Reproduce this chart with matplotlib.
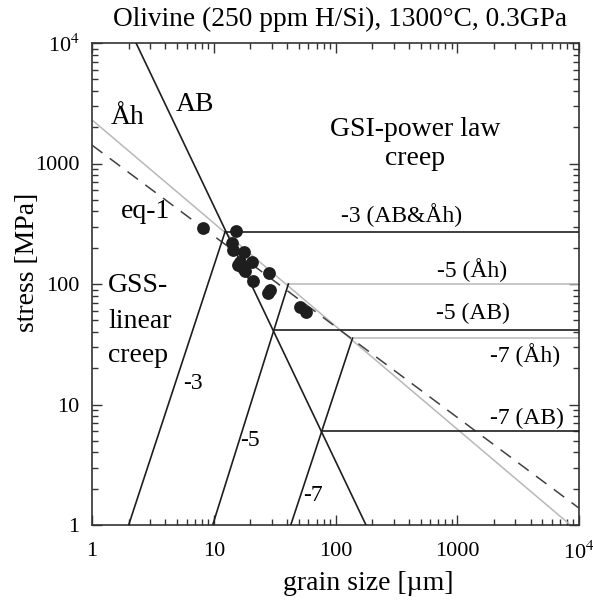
import matplotlib
matplotlib.use("Agg")
import matplotlib.pyplot as plt
from matplotlib.ticker import LogLocator, NullFormatter, FixedLocator, FixedFormatter

plt.rcParams['font.family'] = ['Liberation Serif', 'DejaVu Serif']
plt.rcParams['mathtext.fontset'] = 'stix'

# ---- data (grain size in µm, stress in MPa) ----
# measured data points
grain_pts = [8.2, 15.1, 14.0, 14.3, 17.7, 16.4, 20.5, 17.5, 15.9, 18.1, 28.7, 20.9, 29.0, 28.1, 51.1, 57.3]
stress_pts = [293, 277, 219, 191, 183, 152, 152, 136, 144, 127, 123, 105, 89, 84, 64.5, 58.9]

# AB field boundary (GSS/GSI)
ab_x = [2.3, 178]
ab_y = [1e4, 1.0]
# Åh field boundary (grey)
ah_x = [1.0, 8500]
ah_y = [2300, 1.0]
# eq-1 (dashed)
eq1_x = [1.0, 1e4]
eq1_y = [1420, 1.38]

# strain-rate contours in GSS (linear) creep field: log10 strain rate -3, -5, -7
gss_labels = ['-3', '-5', '-7']
gss_x = [[2.0, 12.4], [9.8, 41.0], [42.9, 138]]
gss_y = [[1.0, 272], [1.0, 100], [1.0, 35.5]]
gss_label_x = [6.8, 19.9, 65.8]
gss_label_y = [15, 5.07, 1.77]

# strain-rate contours in GSI (power-law) field (horizontal)
gsi_labels = ['-3 (AB&Åh)', '-5 (Åh)', '-5 (AB)', '-7 (Åh)', '-7 (AB)']
gsi_start = [12.4, 40.7, 31.3, 138, 77]
gsi_stress = [272, 100, 41.5, 35.6, 6.06]
gsi_grey = [False, True, False, True, False]
gsi_label_x = [350, 1315, 1355, 3600, 3720]
gsi_label_y = [374, 131, 57, 25.8, 7.7]

x_ticks = [1, 10, 100, 1000, 1e4]
x_ticklabels = ['1', '10', '100', '1000', r'10$^{4}$']
y_ticks = [1, 10, 100, 1000, 1e4]
y_ticklabels = ['1', '10', '100', '1000', r'10$^{4}$']

BLACK = '#1e1e1e'
GREY = '#b8b8b8'

fig = plt.figure(figsize=(5.93, 6.02), dpi=100)
ax = fig.add_axes([92/593, 1-525/602, 487/593, 482/602])
ax.set_xscale('log')
ax.set_yscale('log')
ax.set_xlim(1, 1e4)
ax.set_ylim(1, 1e4)

# boundaries
ax.plot(ah_x, ah_y, color=GREY, lw=1.1, zorder=2)
ax.plot(ab_x, ab_y, color=BLACK, lw=1.2, zorder=3)
ax.plot(eq1_x, eq1_y, color='#404040', lw=1.1, dashes=(8.5, 6), zorder=3)

for xs, ys in zip(gss_x, gss_y):
    ax.plot(xs, ys, color=BLACK, lw=1.2, zorder=3)

for xs, s, g in zip(gsi_start, gsi_stress, gsi_grey):
    ax.plot([xs, 1e4], [s, s], color=GREY if g else BLACK, lw=1.1 if g else 1.2,
            zorder=2 if g else 3)

ax.plot(grain_pts, stress_pts, 'o', color=BLACK, ms=8.2, mec=BLACK, zorder=5)

# region labels
fs_region = 20
ax.text(1.98, 2390, 'Åh', fontsize=fs_region, ha='center', va='center')
ax.text(7.0, 3060, 'AB', fontsize=fs_region, ha='center', va='center')
ax.text(450, 1900, 'GSI-power law', fontsize=fs_region, ha='center', va='center')
ax.text(450, 1110, 'creep', fontsize=fs_region, ha='center', va='center')
ax.text(2.73, 398, 'eq-1', fontsize=fs_region, ha='center', va='center')
ax.text(1.36, 98, 'GSS-', fontsize=fs_region, ha='left', va='center')
ax.text(1.36, 49, 'linear', fontsize=fs_region, ha='left', va='center')
ax.text(1.36, 25.5, 'creep', fontsize=fs_region, ha='left', va='center')

fs_lab = 17
for t, lx, ly in zip(gss_labels, gss_label_x, gss_label_y):
    ax.text(lx, ly, t, fontsize=fs_lab, ha='center', va='center')
for t, lx, ly in zip(gsi_labels, gsi_label_x, gsi_label_y):
    ax.text(lx, ly, t, fontsize=fs_lab, ha='center', va='center')

# axes formatting
ax.xaxis.set_major_locator(FixedLocator(x_ticks))
ax.xaxis.set_major_formatter(FixedFormatter(x_ticklabels))
ax.yaxis.set_major_locator(FixedLocator(y_ticks))
ax.yaxis.set_major_formatter(FixedFormatter(y_ticklabels))
ax.xaxis.set_minor_locator(LogLocator(base=10, subs=range(2, 10), numticks=20))
ax.yaxis.set_minor_locator(LogLocator(base=10, subs=range(2, 10), numticks=20))
ax.xaxis.set_minor_formatter(NullFormatter())
ax.yaxis.set_minor_formatter(NullFormatter())
ax.tick_params(which='both', direction='in', top=True, right=True, color='#333333')
ax.tick_params(which='major', length=7, width=1.0, labelsize=16)
ax.tick_params(which='minor', length=4, width=1.0)
ax.tick_params(axis='x', which='major', pad=12)
ax.tick_params(axis='y', which='major', pad=9)
for sp in ax.spines.values():
    sp.set_linewidth(1.2)
    sp.set_color('#333333')

ax.set_xlabel('grain size [µm]', fontsize=20)
ax.set_ylabel('stress [MPa]', fontsize=20)
ax.xaxis.set_label_coords(0.567, -0.095)
ax.yaxis.set_label_coords(-0.107, 0.544)

ax.text(0.509, 1.036, 'Olivine (250 ppm H/Si), 1300°C, 0.3GPa', fontsize=19.7,
        ha='center', va='baseline', transform=ax.transAxes)

fig.savefig('out.png', dpi=100)
